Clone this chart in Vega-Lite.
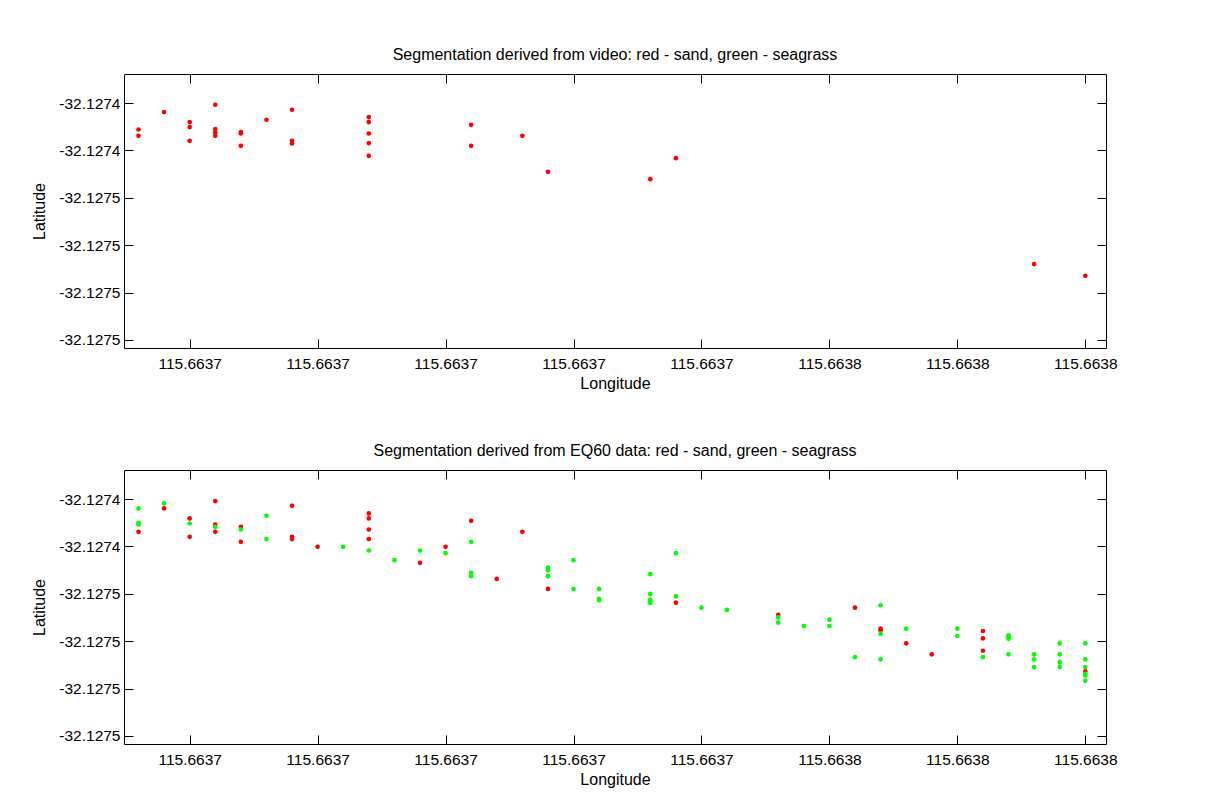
{
  "$schema": "https://vega.github.io/schema/vega-lite/v6.json",
  "padding": {"left": 31, "top": 46, "right": 5, "bottom": 5},
  "background": "white",
  "spacing": 50,
  "config": {
    "font": "Liberation Sans",
    "view": {"stroke": "black", "strokeWidth": 1},
    "axis": {"grid": false, "domain": false, "tickColor": "black", "tickSize": -9, "tickWidth": 1,
      "labelFont": "Liberation Sans", "labelFontSize": 15.5, "labelColor": "black",
      "titleFont": "Liberation Sans", "titleFontSize": 16, "titleFontWeight": "normal", "titleColor": "black"},
    "title": {"font": "Liberation Sans", "fontSize": 16, "fontWeight": "normal", "color": "black", "anchor": "middle", "frame": "group", "baseline": "alphabetic", "offset": 10.5}
  },
  "datasets": {
    "video": [
      {"lon":115.663652,"lat":-32.12743116,"cls":"sand"},{"lon":115.663652,"lat":-32.12743383,"cls":"sand"},
      {"lon":115.663656,"lat":-32.12742381,"cls":"sand"},
      {"lon":115.66366,"lat":-32.12742803,"cls":"sand"},{"lon":115.66366,"lat":-32.12743015,"cls":"sand"},{"lon":115.66366,"lat":-32.12743594,"cls":"sand"},
      {"lon":115.663664,"lat":-32.12742072,"cls":"sand"},{"lon":115.663664,"lat":-32.12743099,"cls":"sand"},{"lon":115.663664,"lat":-32.12743243,"cls":"sand"},{"lon":115.663664,"lat":-32.12743383,"cls":"sand"},
      {"lon":115.663668,"lat":-32.12743226,"cls":"sand"},{"lon":115.663668,"lat":-32.12743285,"cls":"sand"},{"lon":115.663668,"lat":-32.12743806,"cls":"sand"},
      {"lon":115.663672,"lat":-32.12742706,"cls":"sand"},
      {"lon":115.663676,"lat":-32.12742283,"cls":"sand"},{"lon":115.663676,"lat":-32.12743594,"cls":"sand"},{"lon":115.663676,"lat":-32.12743708,"cls":"sand"},
      {"lon":115.663688,"lat":-32.12742592,"cls":"sand"},{"lon":115.663688,"lat":-32.12742803,"cls":"sand"},{"lon":115.663688,"lat":-32.12743285,"cls":"sand"},{"lon":115.663688,"lat":-32.12743691,"cls":"sand"},{"lon":115.663688,"lat":-32.12744228,"cls":"sand"},
      {"lon":115.663704,"lat":-32.12742918,"cls":"sand"},{"lon":115.663704,"lat":-32.12743806,"cls":"sand"},
      {"lon":115.663712,"lat":-32.12743383,"cls":"sand"},
      {"lon":115.663716,"lat":-32.12744905,"cls":"sand"},
      {"lon":115.663732,"lat":-32.12745214,"cls":"sand"},
      {"lon":115.663736,"lat":-32.12744326,"cls":"sand"},
      {"lon":115.663792,"lat":-32.12748795,"cls":"sand"},
      {"lon":115.6638,"lat":-32.1274929,"cls":"sand"}
    ],
    "eq60": [
      {"lon":115.663652,"lat":-32.12743383,"cls":"sand"},
      {"lon":115.663656,"lat":-32.12742397,"cls":"sand"},
      {"lon":115.66366,"lat":-32.1274282,"cls":"sand"},{"lon":115.66366,"lat":-32.12743594,"cls":"sand"},
      {"lon":115.663664,"lat":-32.12742085,"cls":"sand"},{"lon":115.663664,"lat":-32.12743074,"cls":"sand"},{"lon":115.663664,"lat":-32.12743383,"cls":"sand"},
      {"lon":115.663668,"lat":-32.12743171,"cls":"sand"},{"lon":115.663668,"lat":-32.12743806,"cls":"sand"},
      {"lon":115.663676,"lat":-32.12742283,"cls":"sand"},{"lon":115.663676,"lat":-32.12743594,"cls":"sand"},{"lon":115.663676,"lat":-32.12743691,"cls":"sand"},
      {"lon":115.66368,"lat":-32.12744017,"cls":"sand"},
      {"lon":115.663688,"lat":-32.12742609,"cls":"sand"},{"lon":115.663688,"lat":-32.1274282,"cls":"sand"},{"lon":115.663688,"lat":-32.12743285,"cls":"sand"},{"lon":115.663688,"lat":-32.12743691,"cls":"sand"},
      {"lon":115.663696,"lat":-32.12744693,"cls":"sand"},
      {"lon":115.6637,"lat":-32.12744017,"cls":"sand"},
      {"lon":115.663704,"lat":-32.12742918,"cls":"sand"},
      {"lon":115.663708,"lat":-32.1274537,"cls":"sand"},
      {"lon":115.663712,"lat":-32.12743383,"cls":"sand"},
      {"lon":115.663716,"lat":-32.12745793,"cls":"sand"},
      {"lon":115.663736,"lat":-32.12746372,"cls":"sand"},
      {"lon":115.663752,"lat":-32.12746892,"cls":"sand"},
      {"lon":115.663764,"lat":-32.12746584,"cls":"sand"},
      {"lon":115.663768,"lat":-32.12747471,"cls":"sand"},{"lon":115.663768,"lat":-32.12747539,"cls":"sand"},
      {"lon":115.663772,"lat":-32.12748089,"cls":"sand"},
      {"lon":115.663776,"lat":-32.12748554,"cls":"sand"},
      {"lon":115.663784,"lat":-32.12747569,"cls":"sand"},{"lon":115.663784,"lat":-32.12747877,"cls":"sand"},{"lon":115.663784,"lat":-32.12748402,"cls":"sand"},
      {"lon":115.6638,"lat":-32.12749273,"cls":"sand"},
      {"lon":115.663652,"lat":-32.12742397,"cls":"seagrass"},{"lon":115.663652,"lat":-32.12743002,"cls":"seagrass"},{"lon":115.663652,"lat":-32.12743074,"cls":"seagrass"},
      {"lon":115.663656,"lat":-32.12742186,"cls":"seagrass"},
      {"lon":115.66366,"lat":-32.12743032,"cls":"seagrass"},
      {"lon":115.663664,"lat":-32.12743171,"cls":"seagrass"},
      {"lon":115.663668,"lat":-32.12743285,"cls":"seagrass"},
      {"lon":115.663672,"lat":-32.12742706,"cls":"seagrass"},{"lon":115.663672,"lat":-32.12743691,"cls":"seagrass"},
      {"lon":115.663684,"lat":-32.12744017,"cls":"seagrass"},
      {"lon":115.663688,"lat":-32.12744173,"cls":"seagrass"},
      {"lon":115.663692,"lat":-32.12744579,"cls":"seagrass"},
      {"lon":115.663696,"lat":-32.12744173,"cls":"seagrass"},
      {"lon":115.6637,"lat":-32.12744283,"cls":"seagrass"},
      {"lon":115.663704,"lat":-32.12743806,"cls":"seagrass"},{"lon":115.663704,"lat":-32.12745116,"cls":"seagrass"},{"lon":115.663704,"lat":-32.12745256,"cls":"seagrass"},
      {"lon":115.663716,"lat":-32.12744892,"cls":"seagrass"},{"lon":115.663716,"lat":-32.12745002,"cls":"seagrass"},{"lon":115.663716,"lat":-32.12745256,"cls":"seagrass"},
      {"lon":115.66372,"lat":-32.12744579,"cls":"seagrass"},{"lon":115.66372,"lat":-32.12745793,"cls":"seagrass"},
      {"lon":115.663724,"lat":-32.12745793,"cls":"seagrass"},{"lon":115.663724,"lat":-32.12746216,"cls":"seagrass"},{"lon":115.663724,"lat":-32.12746271,"cls":"seagrass"},
      {"lon":115.663732,"lat":-32.12745171,"cls":"seagrass"},{"lon":115.663732,"lat":-32.12746004,"cls":"seagrass"},{"lon":115.663732,"lat":-32.12746245,"cls":"seagrass"},{"lon":115.663732,"lat":-32.12746313,"cls":"seagrass"},{"lon":115.663732,"lat":-32.12746385,"cls":"seagrass"},
      {"lon":115.663736,"lat":-32.12744283,"cls":"seagrass"},{"lon":115.663736,"lat":-32.1274611,"cls":"seagrass"},
      {"lon":115.66374,"lat":-32.12746584,"cls":"seagrass"},
      {"lon":115.663744,"lat":-32.12746681,"cls":"seagrass"},
      {"lon":115.663752,"lat":-32.12746989,"cls":"seagrass"},{"lon":115.663752,"lat":-32.12747218,"cls":"seagrass"},
      {"lon":115.663756,"lat":-32.12747357,"cls":"seagrass"},
      {"lon":115.66376,"lat":-32.12747091,"cls":"seagrass"},{"lon":115.66376,"lat":-32.12747357,"cls":"seagrass"},
      {"lon":115.663764,"lat":-32.12748668,"cls":"seagrass"},
      {"lon":115.663768,"lat":-32.12746482,"cls":"seagrass"},{"lon":115.663768,"lat":-32.12747683,"cls":"seagrass"},{"lon":115.663768,"lat":-32.12748765,"cls":"seagrass"},
      {"lon":115.663772,"lat":-32.12747471,"cls":"seagrass"},
      {"lon":115.66378,"lat":-32.12747471,"cls":"seagrass"},{"lon":115.66378,"lat":-32.1274778,"cls":"seagrass"},
      {"lon":115.663784,"lat":-32.12748668,"cls":"seagrass"},
      {"lon":115.663788,"lat":-32.12747751,"cls":"seagrass"},{"lon":115.663788,"lat":-32.12747822,"cls":"seagrass"},{"lon":115.663788,"lat":-32.12747894,"cls":"seagrass"},{"lon":115.663788,"lat":-32.12748554,"cls":"seagrass"},
      {"lon":115.663792,"lat":-32.12748554,"cls":"seagrass"},{"lon":115.663792,"lat":-32.12748765,"cls":"seagrass"},{"lon":115.663792,"lat":-32.12749091,"cls":"seagrass"},
      {"lon":115.663796,"lat":-32.12748089,"cls":"seagrass"},{"lon":115.663796,"lat":-32.12748554,"cls":"seagrass"},{"lon":115.663796,"lat":-32.12748879,"cls":"seagrass"},{"lon":115.663796,"lat":-32.12749091,"cls":"seagrass"},
      {"lon":115.6638,"lat":-32.12748089,"cls":"seagrass"},{"lon":115.6638,"lat":-32.12748765,"cls":"seagrass"},{"lon":115.6638,"lat":-32.12749091,"cls":"seagrass"},{"lon":115.6638,"lat":-32.12749374,"cls":"seagrass"},{"lon":115.6638,"lat":-32.12749442,"cls":"seagrass"},{"lon":115.6638,"lat":-32.1274967,"cls":"seagrass"}
    ]
  },
  "vconcat": [
    {
      "title": {"text": "Segmentation derived from video: red - sand, green - seagrass"},
      "width": 982, "height": 274,
      "data": {"name": "video"},
      "resolve": {"axis": {"x": "independent", "y": "independent"}},
      "layer": [
        {
          "transform": [{"filter": "datum.cls === 'sand'"}],
          "mark": {"type": "circle", "size": 22, "opacity": 1},
          "encoding": {
            "x": {"field": "lon", "type": "quantitative", "scale": {"domain": [115.663649734, 115.663803234], "nice": false, "zero": false},
              "axis": {"orient": "bottom", "title": "Longitude", "values": [115.66366, 115.66368, 115.6637, 115.66372, 115.66374, 115.66376, 115.66378, 115.6638], "format": ".4f", "labelPadding": 17, "titlePadding": 4}},
            "y": {"field": "lat", "type": "quantitative", "scale": {"domain": [-32.127523378, -32.127407748], "nice": false, "zero": false},
              "axis": {"orient": "left", "title": "Latitude", "values": [-32.12742, -32.12744, -32.12746, -32.12748, -32.1275, -32.12752], "labelExpr": "'-' + format(-datum.value, '.4f')", "labelPadding": 13, "titlePadding": 11}},
            "color": {"field": "cls", "type": "nominal", "scale": {"domain": ["sand", "seagrass"], "range": ["#ff0000", "#00ff00"]}, "legend": null}
          }
        },
        {
          "transform": [{"filter": "datum.cls === 'seagrass'"}],
          "mark": {"type": "circle", "size": 22, "opacity": 1},
          "encoding": {
            "x": {"field": "lon", "type": "quantitative", "scale": {"domain": [115.663649734, 115.663803234], "nice": false, "zero": false},
              "axis": {"orient": "top", "title": null, "labels": false, "values": [115.66366, 115.66368, 115.6637, 115.66372, 115.66374, 115.66376, 115.66378, 115.6638]}},
            "y": {"field": "lat", "type": "quantitative", "scale": {"domain": [-32.127523378, -32.127407748], "nice": false, "zero": false},
              "axis": {"orient": "right", "title": null, "labels": false, "values": [-32.12742, -32.12744, -32.12746, -32.12748, -32.1275, -32.12752]}},
            "color": {"field": "cls", "type": "nominal", "scale": {"domain": ["sand", "seagrass"], "range": ["#ff0000", "#00ff00"]}, "legend": null}
          }
        }
      ]
    },
    {
      "title": {"text": "Segmentation derived from EQ60 data: red - sand, green - seagrass"},
      "width": 982, "height": 274,
      "data": {"name": "eq60"},
      "resolve": {"axis": {"x": "independent", "y": "independent"}},
      "layer": [
        {
          "transform": [{"filter": "datum.cls === 'sand'"}],
          "mark": {"type": "circle", "size": 22, "opacity": 1},
          "encoding": {
            "x": {"field": "lon", "type": "quantitative", "scale": {"domain": [115.663649734, 115.663803234], "nice": false, "zero": false},
              "axis": {"orient": "bottom", "title": "Longitude", "values": [115.66366, 115.66368, 115.6637, 115.66372, 115.66374, 115.66376, 115.66378, 115.6638], "format": ".4f", "labelPadding": 17, "titlePadding": 4}},
            "y": {"field": "lat", "type": "quantitative", "scale": {"domain": [-32.127523378, -32.127407748], "nice": false, "zero": false},
              "axis": {"orient": "left", "title": "Latitude", "values": [-32.12742, -32.12744, -32.12746, -32.12748, -32.1275, -32.12752], "labelExpr": "'-' + format(-datum.value, '.4f')", "labelPadding": 13, "titlePadding": 11}},
            "color": {"field": "cls", "type": "nominal", "scale": {"domain": ["sand", "seagrass"], "range": ["#ff0000", "#00ff00"]}, "legend": null}
          }
        },
        {
          "transform": [{"filter": "datum.cls === 'seagrass'"}],
          "mark": {"type": "circle", "size": 22, "opacity": 1},
          "encoding": {
            "x": {"field": "lon", "type": "quantitative", "scale": {"domain": [115.663649734, 115.663803234], "nice": false, "zero": false},
              "axis": {"orient": "top", "title": null, "labels": false, "values": [115.66366, 115.66368, 115.6637, 115.66372, 115.66374, 115.66376, 115.66378, 115.6638]}},
            "y": {"field": "lat", "type": "quantitative", "scale": {"domain": [-32.127523378, -32.127407748], "nice": false, "zero": false},
              "axis": {"orient": "right", "title": null, "labels": false, "values": [-32.12742, -32.12744, -32.12746, -32.12748, -32.1275, -32.12752]}},
            "color": {"field": "cls", "type": "nominal", "scale": {"domain": ["sand", "seagrass"], "range": ["#ff0000", "#00ff00"]}, "legend": null}
          }
        }
      ]
    }
  ]
}
